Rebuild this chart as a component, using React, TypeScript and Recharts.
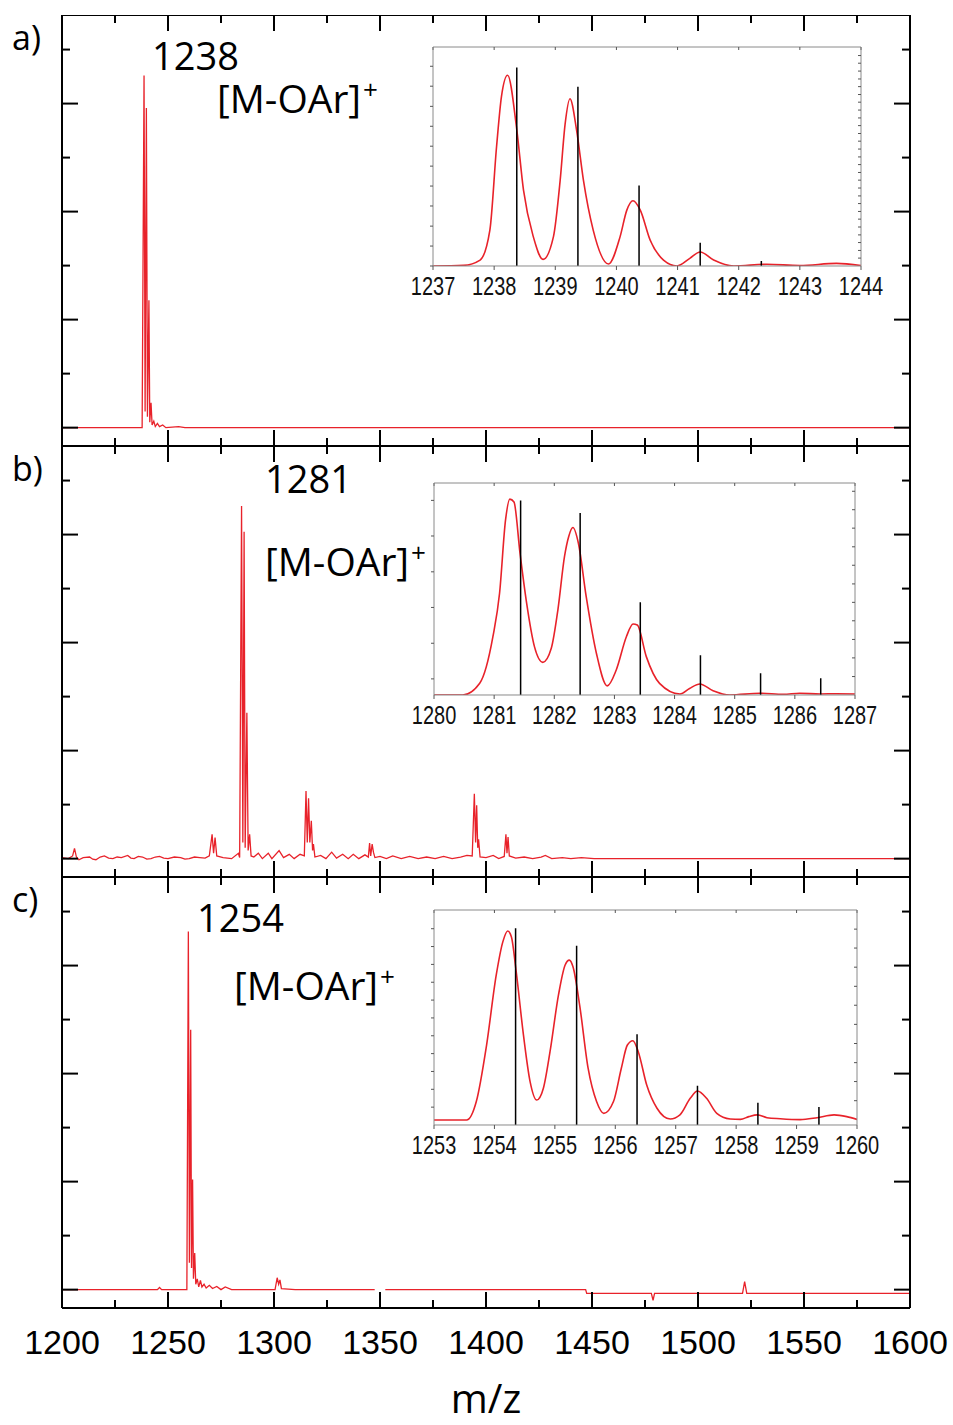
import { LineChart, Line, XAxis, YAxis } from 'recharts'

// main spectra: [m/z, intensity in y-tick units, baseline = 0]
const spectrumA: [number, number | null][] = [
  [1200, 0], [1237.8, 0], [1238.7, 6.52], [1239.2, 0.3], [1239.8, 5.92], [1240.3, 0.2],
  [1241.0, 2.36], [1241.4, 0.1], [1242.0, 0.46], [1242.5, 0.05], [1243.3, 0.12], [1244, 0.02],
  [1245, 0.08], [1246, 0.02], [1247.5, 0.05], [1249, 0], [1255, 0.02], [1258, 0], [1600, 0],
]

const spectrumB: [number, number | null][] = [
  [1200, 0.02], [1203, 0], [1205, 0.05], [1205.9, 0.19], [1206.8, 0.03], [1208, -0.02], [1210, 0.02],
  [1213, 0.03], [1214.5, -0.01], [1216, -0.02], [1218, 0.03], [1220, 0.05], [1222, 0.01], [1224, 0],
  [1226, 0.03], [1228, 0.02], [1231, 0.06], [1232.5, 0.01], [1234, 0], [1236, 0.04], [1238, 0.03],
  [1240, -0.01], [1242, 0], [1244, 0.03], [1246, 0.04], [1248, 0.01], [1250, 0], [1253, 0.03],
  [1256, 0.02], [1258, -0.01], [1260, 0], [1262.5, 0.03], [1265, 0.02], [1267.5, 0.01], [1269.5, 0.05],
  [1270.8, 0.45], [1271.5, 0.1], [1272.2, 0.39], [1273, 0.05], [1276, 0.02], [1280, 0],
  [1283.2, 0.1], [1283.8, 0.02], [1284.7, 6.53], [1285.3, 0.3], [1285.9, 6.05], [1286.4, 0.2],
  [1287.2, 2.7], [1287.8, 0.15], [1288.5, 0.45], [1289.2, 0.05], [1290.5, 0.03], [1292.6, 0.1],
  [1294.5, 0], [1297.3, 0.1], [1299, 0], [1302.4, 0.15], [1304.5, 0.02], [1307.2, 0.08],
  [1309.5, 0], [1312.3, 0.08], [1314.3, 0.05], [1315.1, 1.25], [1315.7, 0.3], [1316.3, 1.12],
  [1316.9, 0.3], [1317.6, 0.7], [1318.2, 0.15], [1318.6, 0.27], [1319.3, 0.03], [1322, 0.06],
  [1324.5, 0], [1327.2, 0.12], [1329.5, 0.01], [1332.4, 0.08], [1335, 0], [1337.4, 0.08],
  [1340, 0], [1342.9, 0.07], [1344.5, 0.03], [1345.1, 0.29], [1345.6, 0.05], [1346.3, 0.27],
  [1346.9, 0.12], [1347.6, 0.02], [1350, 0.04], [1353, 0], [1356, 0.05], [1360, 0], [1364, 0.04],
  [1368, 0], [1372, 0.03], [1376, 0], [1380, 0.04], [1384, 0], [1388, 0.03], [1391, 0.06],
  [1393.5, 0.05], [1394.5, 1.2], [1395.1, 0.3], [1395.6, 0.99], [1396.1, 0.2], [1396.5, 0.36],
  [1397.2, 0.03], [1400, 0.02], [1403.4, 0.06], [1406, 0], [1408.6, 0.04], [1409.4, 0.45],
  [1409.9, 0.1], [1410.4, 0.4], [1411, 0.05], [1414, 0.01], [1418, 0.03], [1422, 0], [1426, 0.03],
  [1428, 0.06], [1431, 0], [1436, 0.02], [1440, 0], [1445, 0.02], [1451, 0], [1600, 0],
]

const spectrumC: [number, number | null][] = [
  [1200, 0], [1245, 0], [1246, 0.04], [1247, 0], [1258.9, 0], [1259.6, 6.63], [1260.1, 0.5],
  [1260.7, 4.81], [1261.1, 0.4], [1261.6, 2.04], [1262.0, 0.2], [1262.6, 0.68], [1263.1, 0.1],
  [1263.8, 0.2], [1264.5, 0.05], [1265.3, 0.17], [1266, 0.05], [1267, 0.1], [1268, 0.03],
  [1269.5, 0.08], [1271, 0.02], [1273, 0.06], [1275, 0], [1277, 0.05], [1280, 0], [1300.5, 0],
  [1301.5, 0.22], [1302.2, 0.1], [1302.8, 0.18], [1303.5, 0.02], [1310, 0], [1347.5, 0],
  [1350, null], [1352.5, 0], [1447, 0], [1447.5, -0.07], [1478, -0.07], [1478.8, -0.2],
  [1479.5, -0.07], [1521, -0.07], [1522, 0.15], [1523, -0.07], [1600, -0.07],
]

const MAJOR_X = [1200, 1250, 1300, 1350, 1400, 1450, 1500, 1550, 1600]
const MINOR_X = [1225, 1275, 1325, 1375, 1425, 1475, 1525, 1575]
const MAJOR_Y = [0, 2, 4, 6]
const MINOR_Y = [1, 3, 5, 7]

// insets: measured isotope pattern (red, % of inset height) and calculated sticks (black)
const insetCurveA: [number, number][] = [
  [1237, 0], [1237.5, 0.3], [1237.77, 2.7], [1237.93, 16.4], [1238.04, 54.7], [1238.12, 77.5],
  [1238.22, 87.1], [1238.37, 62.3], [1238.48, 34.6], [1238.64, 13.4], [1238.8, 3.0],
  [1238.97, 13.4], [1239.08, 39.2], [1239.16, 64.7], [1239.24, 76.4], [1239.35, 61.7],
  [1239.46, 39.2], [1239.62, 16.4], [1239.87, 0.9], [1240.06, 13.4], [1240.17, 25.5],
  [1240.27, 29.8], [1240.39, 25.5], [1240.55, 11.9], [1240.77, 2.7], [1240.99, 0],
  [1241.2, 3.5], [1241.37, 6.4], [1241.59, 2.7], [1241.92, 0], [1242.46, 0.8], [1243.0, 0.2],
  [1243.6, 1.2], [1244, 0.2],
]
const sticksA: [number, number][] = [
  [1238.37, 90.6], [1239.37, 81.8], [1240.37, 36.7], [1241.37, 10.6], [1242.37, 2.3],
]

const insetCurveB: [number, number][] = [
  [1280, 0], [1280.48, 0], [1280.76, 5.5], [1280.98, 27.6], [1281.09, 48], [1281.19, 82.7],
  [1281.26, 92.4], [1281.33, 91], [1281.43, 66.9], [1281.54, 43.3], [1281.67, 22.8],
  [1281.81, 15.4], [1281.95, 22], [1282.06, 40.2], [1282.17, 65.4], [1282.24, 74.8],
  [1282.31, 79], [1282.4, 71.7], [1282.53, 46.5], [1282.7, 19.7], [1282.88, 4.3],
  [1283.03, 11.8], [1283.2, 27.6], [1283.31, 33.5], [1283.38, 33], [1283.53, 18.1],
  [1283.75, 5.5], [1284.09, 0.5], [1284.25, 3.1], [1284.42, 5.2], [1284.64, 2], [1284.92, 0],
  [1285.42, 0.8], [1285.81, 0.3], [1286.08, 0.8], [1286.42, 0.5], [1286.69, 0.6], [1287, 0.5],
]
const sticksB: [number, number][] = [
  [1281.44, 91.7], [1282.43, 85.8], [1283.43, 43.8], [1284.43, 18.7], [1285.43, 10.2], [1286.43, 7.9],
]

const insetCurveC: [number, number][] = [
  [1253, 2.3], [1253.54, 2.3], [1253.7, 10.9], [1253.87, 37.2], [1254.03, 69.8], [1254.14, 85.3],
  [1254.22, 90.2], [1254.28, 87.6], [1254.36, 71.3], [1254.48, 41.9], [1254.59, 20.2],
  [1254.7, 11.6], [1254.81, 17.1], [1254.92, 34.1], [1255.06, 60.5], [1255.17, 74.4],
  [1255.24, 76.7], [1255.3, 73.6], [1255.41, 55.8], [1255.55, 26.4], [1255.69, 10.9],
  [1255.81, 5.4], [1255.97, 10.9], [1256.1, 26.4], [1256.2, 37.2], [1256.29, 39.2],
  [1256.38, 34.1], [1256.52, 18.6], [1256.69, 7.8], [1256.91, 2.8], [1257.07, 4.7],
  [1257.24, 12.4], [1257.36, 15.8], [1257.51, 12.4], [1257.68, 5.4], [1257.9, 2.8],
  [1258.07, 2.6], [1258.21, 3.9], [1258.35, 4.7], [1258.51, 3.4], [1258.73, 2.9], [1259.06, 2.5],
  [1259.34, 3.4], [1259.62, 4.7], [1259.83, 3.9], [1260, 2.6],
]
const sticksC: [number, number][] = [
  [1254.35, 91.5], [1255.36, 83.4], [1256.36, 42.2], [1257.36, 18.3], [1258.36, 10.4], [1259.37, 8.4],
]

const TICKS_A = [1237, 1238, 1239, 1240, 1241, 1242, 1243, 1244]
const TICKS_B = [1280, 1281, 1282, 1283, 1284, 1285, 1286, 1287]
const TICKS_C = [1253, 1254, 1255, 1256, 1257, 1258, 1259, 1260]

const LEFT_TICKS_A = [0, 9.1, 18.2, 27.4, 36.5, 45.6, 54.7, 63.8, 72.9, 82.1, 91.2]
const RIGHT_TICKS_A = [3.6, 7.1, 10.7, 14.2, 17.8, 21.4, 24.9, 28.5, 32, 35.6, 39.2, 42.7, 46.3, 49.8,
  53.4, 57, 60.5, 64.1, 67.6, 71.2, 74.8, 78.3, 81.9, 85.4, 89, 92.6, 96.1]
const LEFT_TICKS_B = [7.6, 24.4, 41.3, 58.1, 75, 91.8]
const RIGHT_TICKS_B = [8.7, 17.5, 26.2, 35, 43.7, 52.4, 61.2, 69.9, 78.7, 87.4, 96.1]
const LEFT_TICKS_C = [8.3, 16.6, 24.9, 33.2, 41.5, 49.8, 58.1, 66.4, 74.7, 83, 91.3]
const RIGHT_TICKS_C = [11.3, 20.2, 29, 37.9, 46.8, 55.7, 64.5, 73.4, 82.3, 91.1]

const RED = '#e8222a'
const ARIAL = "'Liberation Sans', Arial, sans-serif"
const SANS = "'Open Sans', 'Noto Sans', sans-serif"
const AXIS = { stroke: '#000', strokeWidth: 2 }
const FRAME = { stroke: '#8a8a8a', strokeWidth: 1 }
const TICK_GREY = { stroke: '#555', strokeWidth: 1 }
const Y_DOMAIN = [-0.34, 7.64]
// axes get a hairline size so they are drawn but take no room
const THIN = 0.01

const toPoints = (arr: [number, number | null][]) => arr.map(([x, y]) => ({ x, y }))
const toSticks = (arr: [number, number][]) =>
  arr.flatMap(([x, h]) => [{ x, y: 0 }, { x, y: h }, { x, y: null }])

// tick marks only, no label
const noLabel = () => <g />

const renderMainTick = (props: any) => {
  const { x, y, payload } = props
  return (
    <text x={x} y={y + 46} textAnchor="middle" fontFamily={ARIAL} fontSize={34} fill="#000">
      {payload.value}
    </text>
  )
}

const renderInsetTick = (props: any) => {
  const { x, y, payload } = props
  return (
    <g transform={`translate(${x},${y + 25}) scale(1,1.26)`}>
      <text x={0} y={0} textAnchor="middle" fontFamily={ARIAL} fontSize={20} fill="#111">
        {payload.value}
      </text>
    </g>
  )
}

function Panel({ data, top, withLabels }: { data: [number, number | null][]; top: number; withLabels?: boolean }) {
  const plotH = 431
  const xProps = { type: 'number' as const, dataKey: 'x', domain: [1200, 1600], allowDataOverflow: true, interval: 0 as const }
  const yProps = { type: 'number' as const, domain: Y_DOMAIN, allowDataOverflow: true, interval: 0 as const }
  return (
    <div style={{ position: 'absolute', left: 0, top }}>
      <LineChart width={953} height={plotH + (withLabels ? 60 : 0)} data={toPoints(data)}
        margin={{ top: 0, right: 43, bottom: 0, left: 62 }}>
        <XAxis xAxisId="b" {...xProps} ticks={MAJOR_X} orientation="bottom" mirror height={THIN}
          tickSize={16} tick={noLabel} axisLine={AXIS} tickLine={AXIS} />
        <XAxis xAxisId="bm" {...xProps} ticks={MINOR_X} orientation="bottom" mirror height={THIN}
          tickSize={8} tick={noLabel} axisLine={false} tickLine={AXIS} />
        <XAxis xAxisId="t" {...xProps} ticks={MAJOR_X} orientation="top" mirror height={THIN}
          tickSize={16} tick={noLabel} axisLine={AXIS} tickLine={AXIS} />
        <XAxis xAxisId="tm" {...xProps} ticks={MINOR_X} orientation="top" mirror height={THIN}
          tickSize={8} tick={noLabel} axisLine={false} tickLine={AXIS} />
        {withLabels && (
          <XAxis xAxisId="lab" {...xProps} ticks={MAJOR_X} orientation="bottom" height={60}
            tickSize={0} tickMargin={0} tickLine={false} axisLine={false} tick={renderMainTick} />
        )}
        <YAxis yAxisId="l" {...yProps} ticks={MAJOR_Y} orientation="left" mirror width={THIN}
          tickSize={16} tick={noLabel} axisLine={AXIS} tickLine={AXIS} />
        <YAxis yAxisId="lm" {...yProps} ticks={MINOR_Y} orientation="left" mirror width={THIN}
          tickSize={8} tick={noLabel} axisLine={false} tickLine={AXIS} />
        <YAxis yAxisId="r" {...yProps} ticks={MAJOR_Y} orientation="right" mirror width={THIN}
          tickSize={16} tick={noLabel} axisLine={AXIS} tickLine={AXIS} />
        <YAxis yAxisId="rm" {...yProps} ticks={MINOR_Y} orientation="right" mirror width={THIN}
          tickSize={8} tick={noLabel} axisLine={false} tickLine={AXIS} />
        <Line xAxisId="b" yAxisId="l" dataKey="y" type="linear" stroke={RED}
          strokeWidth={1.3} dot={false} isAnimationActive={false} />
      </LineChart>
    </div>
  )
}

interface InsetProps {
  box: { left: number; top: number; width: number; height: number }
  ticks: number[]
  leftTicks: number[]
  rightTicks: number[]
  curve: [number, number][]
  sticks: [number, number][]
}

function Inset({ box, ticks, leftTicks, rightTicks, curve, sticks }: InsetProps) {
  const padL = 30, padR = 30, padT = 5, padB = 40
  const domain = [ticks[0], ticks[ticks.length - 1]]
  const xProps = { type: 'number' as const, dataKey: 'x', domain, allowDataOverflow: true, interval: 0 as const, ticks }
  const yProps = { type: 'number' as const, domain: [0, 100], allowDataOverflow: true, interval: 0 as const }
  return (
    <div style={{ position: 'absolute', left: box.left - padL, top: box.top - padT }}>
      <LineChart width={box.width + padL + padR} height={box.height + padT + padB} data={toPoints(curve)}
        margin={{ top: padT, right: padR, bottom: padB, left: padL }}>
        <XAxis xAxisId="b" {...xProps} orientation="bottom" height={THIN} tickSize={4} tickMargin={0}
          axisLine={FRAME} tickLine={TICK_GREY} tick={renderInsetTick} />
        <XAxis xAxisId="t" {...xProps} orientation="top" mirror height={THIN} tickSize={3}
          axisLine={FRAME} tickLine={TICK_GREY} tick={noLabel} />
        <YAxis yAxisId="l" {...yProps} ticks={leftTicks} orientation="left" width={THIN} tickSize={3}
          axisLine={FRAME} tickLine={TICK_GREY} tick={noLabel} />
        <YAxis yAxisId="r" {...yProps} ticks={rightTicks} orientation="right" mirror width={THIN} tickSize={3}
          axisLine={FRAME} tickLine={TICK_GREY} tick={noLabel} />
        <Line xAxisId="b" yAxisId="l" dataKey="y" type="monotone" stroke={RED}
          strokeWidth={1.6} dot={false} isAnimationActive={false} />
        <Line xAxisId="b" yAxisId="l" data={toSticks(sticks)} dataKey="y" type="linear" stroke="#000"
          strokeWidth={1.5} dot={false} isAnimationActive={false} />
      </LineChart>
    </div>
  )
}

function Ion({ x, y }: { x: number; y: number }) {
  return (
    <text x={x} y={y} fontFamily={SANS} fontSize={39} fill="#000">
      [M-OAr]<tspan fontSize={26} dx={2} dy={-14}>+</tspan>
    </text>
  )
}

export default function App() {
  return (
    <div style={{ position: 'absolute', left: 0, top: 0, width: 953, height: 1425, background: '#fff' }}>
      <Panel data={spectrumA} top={15} />
      <Panel data={spectrumB} top={446} />
      <Panel data={spectrumC} top={877} withLabels />
      <Inset box={{ left: 433, top: 47, width: 428, height: 219 }} ticks={TICKS_A}
        leftTicks={LEFT_TICKS_A} rightTicks={RIGHT_TICKS_A} curve={insetCurveA} sticks={sticksA} />
      <Inset box={{ left: 434, top: 483, width: 421, height: 212 }} ticks={TICKS_B}
        leftTicks={LEFT_TICKS_B} rightTicks={RIGHT_TICKS_B} curve={insetCurveB} sticks={sticksB} />
      <Inset box={{ left: 434, top: 910, width: 423, height: 215 }} ticks={TICKS_C}
        leftTicks={LEFT_TICKS_C} rightTicks={RIGHT_TICKS_C} curve={insetCurveC} sticks={sticksC} />
      <svg width={953} height={1425} style={{ position: 'absolute', left: 0, top: 0, pointerEvents: 'none' }}>
        <text x={12} y={50} fontFamily={SANS} fontSize={34}>a)</text>
        <text x={12} y={481} fontFamily={SANS} fontSize={34}>b)</text>
        <text x={12} y={912} fontFamily={SANS} fontSize={34}>c)</text>
        <text x={152} y={70} fontFamily={SANS} fontSize={38}>1238</text>
        <Ion x={217} y={113} />
        <text x={265} y={493} fontFamily={SANS} fontSize={38}>1281</text>
        <Ion x={265} y={576} />
        <text x={197} y={932} fontFamily={SANS} fontSize={38}>1254</text>
        <Ion x={234} y={1000} />
        <text x={486} y={1413} textAnchor="middle" fontFamily={SANS} fontSize={40}>m/z</text>
      </svg>
    </div>
  )
}
